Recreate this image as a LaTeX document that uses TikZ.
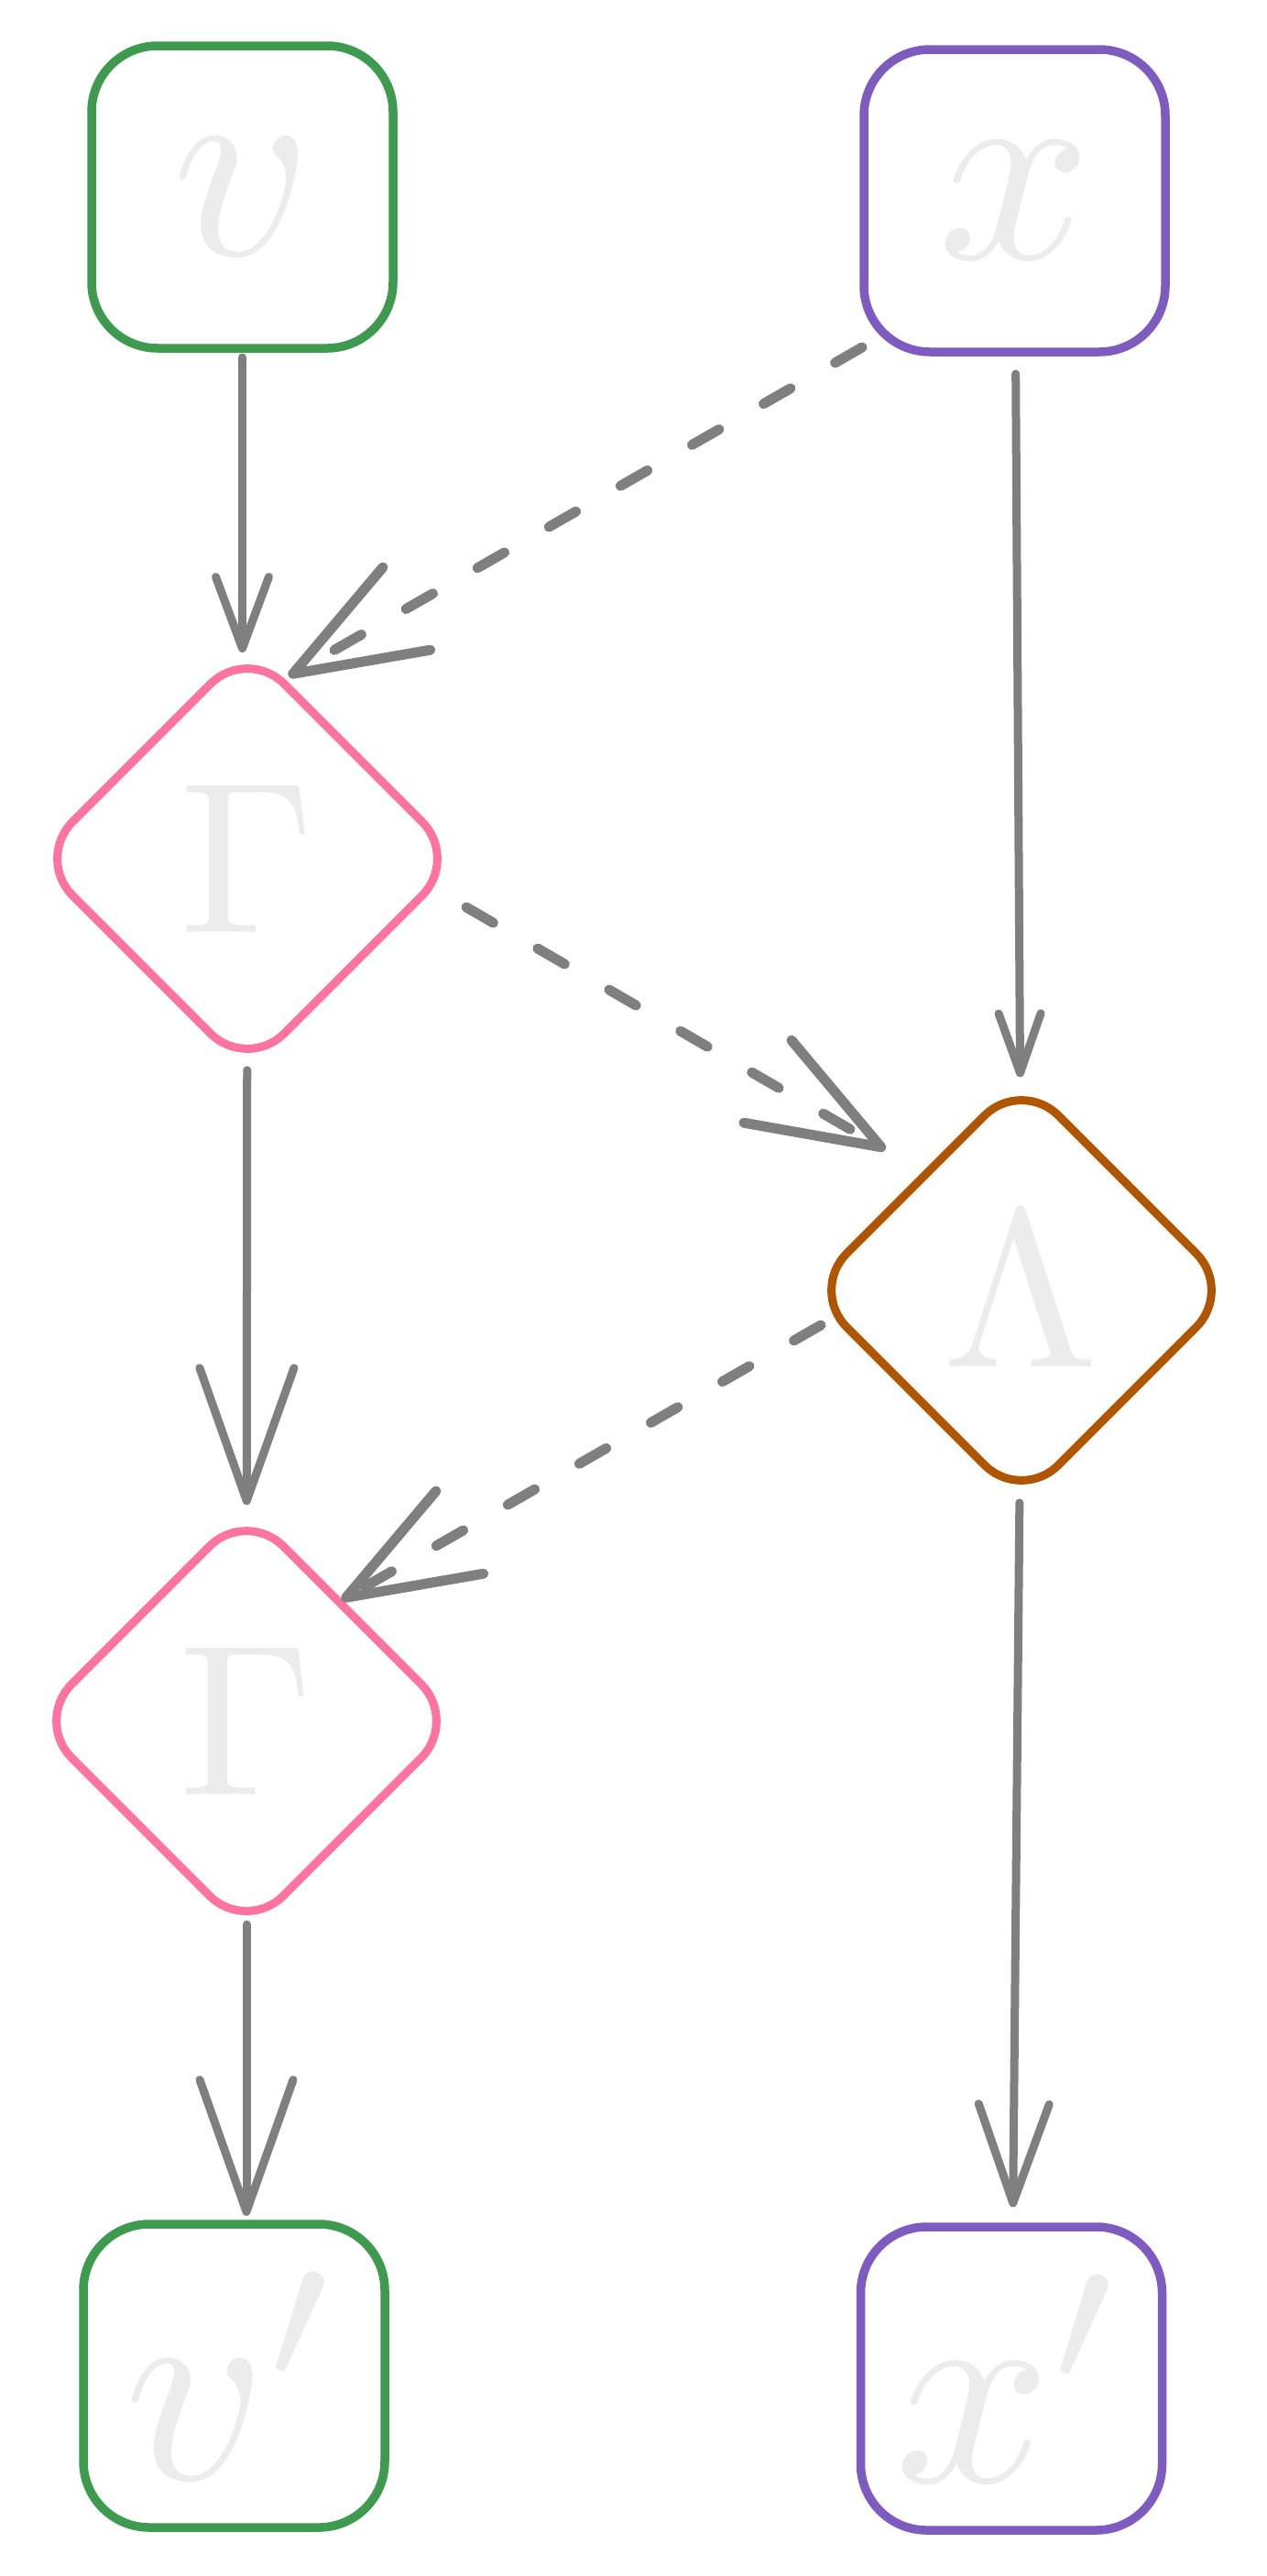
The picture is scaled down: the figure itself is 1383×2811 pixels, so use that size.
\documentclass[tikz,border=0pt]{standalone}
\usepackage{graphicx}
\usetikzlibrary{shapes.geometric,arrows.meta}
\definecolor{cgreen}{HTML}{3D9A4E}
\definecolor{cpurple}{HTML}{7E5BBF}
\definecolor{cpink}{HTML}{FF73A1}
\definecolor{cbrown}{HTML}{B05500}
\definecolor{cline}{HTML}{7F7F7F}
\definecolor{clabel}{HTML}{ECECEC}
\tikzset{
  box/.style={rectangle, draw, line width=9.5pt, rounded corners=72pt,
    minimum width=329pt, minimum height=330pt, inner sep=0pt, outer sep=0pt, text=clabel},
  dia/.style={diamond, aspect=1, draw, line width=9pt, rounded corners=57pt,
    minimum width=462pt, minimum height=462pt, inner sep=0pt, outer sep=0pt, text=clabel},
  conn/.style={draw=cline, line width=9pt, line cap=round},
  dconn/.style={draw=cline, line width=11pt, line cap=round, dash pattern=on 34pt off 56pt},
  bigtip/.style={-{Straight Barb[length=143pt,width=104pt,round]}}
}
\begin{document}
\begin{tikzpicture}[x=1pt,y=-1pt]
\fill[white] (0,0) rectangle (1383,2811);
\useasboundingbox (0,0) rectangle (1383,2811);

\node[box, draw=cgreen]  (v)  at (264.5,215)   {\scalebox{29.5}{$v$}};
\node[box, draw=cpurple] (x)  at (1107.5,219)  {\scalebox{29.5}{$x$}};
\node[dia, draw=cpink]   (Gt) at (270,937)     {\scalebox{23.5}{$\Gamma$}};
\node[dia, draw=cbrown]  (L)  at (1115,1408)   {\scalebox{24.5}{$\Lambda$}};
\node[dia, draw=cpink]   (Gb) at (269,1878)    {\scalebox{23.5}{$\Gamma$}};
\node[box, draw=cgreen, minimum height=331pt]  (vp) at (255.5,2592.5) {\scalebox{30}{$v'$}};
\node[box, draw=cpurple, minimum height=331pt] (xp) at (1104,2595.5)  {\scalebox{30}{$x'$}};

% solid connectors
\draw[conn, -{Straight Barb[length=78pt,width=58pt,round]}, shorten <=10pt, shorten >=-6pt]
  (v) -- (v |- Gt.north);
\draw[conn, -{Straight Barb[length=65pt,width=46pt,round]}, shorten <=24pt, shorten >=3pt]
  (x) -- (L);
\draw[conn, -{Straight Barb[length=145pt,width=103pt,round]}, shorten >=5pt]
  (Gt) -- (Gb);
\draw[conn, -{Straight Barb[length=108pt,width=77pt,round]}, shorten <=3pt, shorten >=21.5pt]
  (L) -- (xp);
\draw[conn, -{Straight Barb[length=144pt,width=102pt,round]}, shorten <=-9pt, shorten >=9pt]
  (Gb) -- (Gb |- vp.north);

% dashed connectors
\draw[dconn, bigtip] ([shift={(-166.5,160)}]x.center) -- ([shift={(45,-199)}]Gt.center);
\draw[dconn, bigtip] ([shift={(239,53)}]Gt.center) -- ([shift={(-148.5,-153.5)}]L.center);
\draw[dconn, bigtip] ([shift={(-219,38)}]L.center) -- ([shift={(104,-132)}]Gb.center);
\end{tikzpicture}
\end{document}
